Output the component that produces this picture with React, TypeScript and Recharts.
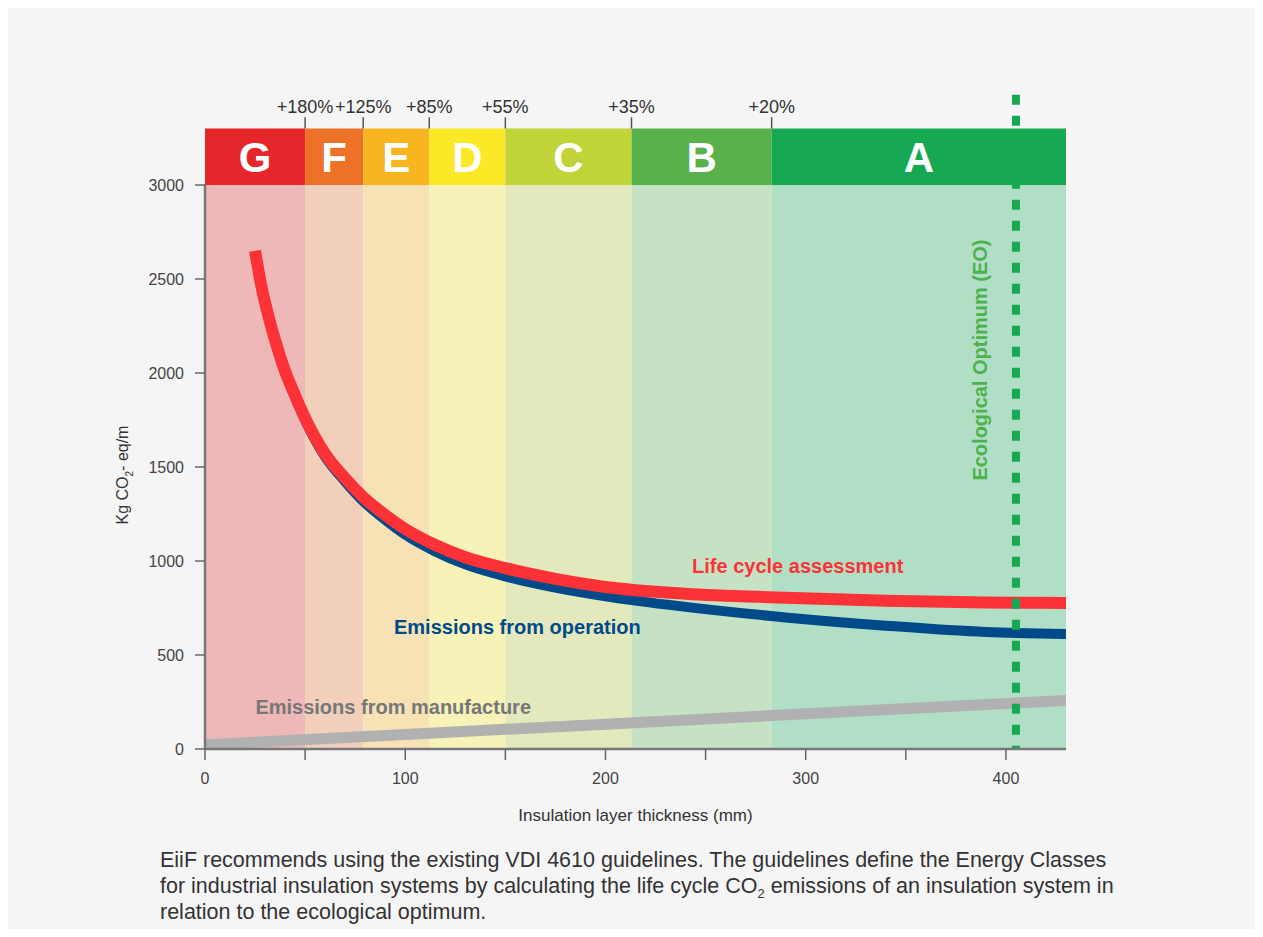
import { LineChart, Line, XAxis, YAxis, ReferenceArea, ReferenceLine, ReferenceDot } from 'recharts';

// energy classes (VDI 4610) and where they start/end on the thickness axis
const classNames = ['G', 'F', 'E', 'D', 'C', 'B', 'A'];
const classEdges = [0, 50, 79, 112, 150, 213, 283, 430];
const headerColors = ['#e5272b', '#ee7128', '#f8b51f', '#fbe928', '#c0d337', '#59b14c', '#17a854'];
const fillColors = ['#efb8b8', '#f2cfba', '#f7e2b6', '#f6f2b8', '#e3e9bd', '#c6e2c4', '#b1dfc5'];
const edgeLabels = ['+180%', '+125%', '+85%', '+55%', '+35%', '+20%'];

// curves, kg CO2-eq/m against insulation thickness (mm)
const thickness = [25, 28, 32, 36, 40, 45, 50, 60, 70, 80, 90, 100, 115, 130, 150, 175, 200, 240, 290, 340, 390, 430];
const lifeCycle = [2650, 2470, 2290, 2140, 2010, 1880, 1760, 1570, 1440, 1330, 1245, 1170, 1085, 1020, 962, 905, 862, 826, 805, 788, 779, 777];
const operation = [2645, 2465, 2284, 2133, 2002, 1870, 1748, 1555, 1422, 1308, 1219, 1140, 1051, 982, 918, 858, 812, 756, 700, 656, 622, 612];

const manufactureThickness = [0, 100, 200, 300, 400, 430];
const manufacture = [22, 77, 132, 187, 242, 258];

const xTicks = [0, 50, 100, 150, 200, 250, 300, 350, 400];
const yTicks = [0, 500, 1000, 1500, 2000, 2500, 3000];
const ecoOptimum = 405;

const curveRows = thickness.map((x, i) => ({ x, lca: lifeCycle[i], op: operation[i] }));
const manufactureRows = manufactureThickness.map((x, i) => ({ x, mf: manufacture[i] }));

const YTitle = (props: any) => {
  const vb = props.viewBox || { x: 0, y: 0, width: 0, height: 0 };
  const cx = 120;
  const cy = vb.y + vb.height / 2 + 8;
  return (
    <text x={cx} y={cy} transform={`rotate(-90 ${cx} ${cy})`} textAnchor="middle" fontSize={16} fill="#333">
      Kg CO<tspan fontSize={10} dy={5}>2</tspan><tspan dy={-5}>- eq/m</tspan>
    </text>
  );
};

export default function App() {
  return (
    <div style={{ position: 'relative', width: 1247, height: 921, background: '#f5f5f5', fontFamily: '"Liberation Sans", Arial, sans-serif' }}>
      <div style={{ position: 'absolute', left: 0, top: 0 }}>
        <LineChart width={1240} height={830} data={curveRows} margin={{ top: 177, right: 182, left: 0, bottom: 14 }}>
          {classNames.map((c, i) => (
            <ReferenceArea key={'f' + c} x1={classEdges[i]} x2={classEdges[i + 1]} y1={0} y2={3000}
              fill={fillColors[i]} fillOpacity={1} stroke="none" ifOverflow="visible" />
          ))}
          {classNames.map((c, i) => (
            <ReferenceArea key={'h' + c} x1={classEdges[i]} x2={classEdges[i + 1]} y1={3000} y2={3300}
              fill={headerColors[i]} fillOpacity={1} stroke="none" ifOverflow="visible"
              label={{ value: c, position: 'center', fill: '#fff', fontSize: 42, fontWeight: 'bold' }} />
          ))}
          <XAxis dataKey="x" type="number" domain={[0, 430]} ticks={xTicks} interval={0} allowDataOverflow
            tickFormatter={(v: number) => (v % 100 === 0 ? String(v) : '')}
            height={75} tickSize={11} tickMargin={13}
            axisLine={{ stroke: '#777', strokeWidth: 2.5 }} tickLine={{ stroke: '#666', strokeWidth: 1.5 }}
            tick={{ fill: '#444', fontSize: 16 }}
            label={{ value: 'Insulation layer thickness (mm)', position: 'insideBottom', offset: 3, fill: '#333', fontSize: 17 }} />
          <YAxis type="number" domain={[0, 3000]} ticks={yTicks} interval={0} allowDataOverflow width={197}
            tickSize={10} tickMargin={11}
            axisLine={{ stroke: '#777', strokeWidth: 2.5 }} tickLine={{ stroke: '#666', strokeWidth: 1.5 }}
            tick={{ fill: '#444', fontSize: 16 }}
            label={<YTitle />} />
          <Line data={manufactureRows} dataKey="mf" type="linear" stroke="#b1b1b1" strokeWidth={11}
            dot={false} activeDot={false} isAnimationActive={false} />
          <Line dataKey="op" type="monotone" stroke="#004a8a" strokeWidth={10}
            dot={false} activeDot={false} isAnimationActive={false} />
          <Line dataKey="lca" type="monotone" stroke="#fd3237" strokeWidth={12}
            dot={false} activeDot={false} isAnimationActive={false} />
          <ReferenceLine segment={[{ x: ecoOptimum, y: 3480 }, { x: ecoOptimum, y: 0 }]} ifOverflow="visible"
            stroke="#17a854" strokeWidth={8} strokeDasharray="10 11" />
          {edgeLabels.map((t, i) => (
            <ReferenceLine key={t} segment={[{ x: classEdges[i + 1], y: 3300 }, { x: classEdges[i + 1], y: 3360 }]}
              ifOverflow="visible" stroke="#555" strokeWidth={1.5}
              label={{ value: t, position: 'top', offset: 4, fill: '#333', fontSize: 18 }} />
          ))}
          <ReferenceDot x={296} y={973} r={0} ifOverflow="visible" stroke="none"
            label={{ value: 'Life cycle assessment', position: 'center', fill: '#fd3237', fontSize: 20, fontWeight: 'bold' }} />
          <ReferenceDot x={156} y={649} r={0} ifOverflow="visible" stroke="none"
            label={{ value: 'Emissions from operation', position: 'center', fill: '#004a8a', fontSize: 20, fontWeight: 'bold' }} />
          <ReferenceDot x={94} y={223} r={0} ifOverflow="visible" stroke="none"
            label={{ value: 'Emissions from manufacture', position: 'center', fill: '#777', fontSize: 20, fontWeight: 'bold' }} />
          <ReferenceDot x={387} y={2069} r={0} ifOverflow="visible" stroke="none"
            label={{ value: 'Ecological Optimum (EO)', position: 'center', angle: -90, fill: '#4cb24d', fontSize: 20, fontWeight: 'bold' }} />
        </LineChart>
      </div>
      <div style={{ position: 'absolute', left: 152, top: 839, fontSize: 21.5, lineHeight: '26px', color: '#333' }}>
        EiiF recommends using the existing VDI 4610 guidelines. The guidelines define the Energy Classes<br />
        for industrial insulation systems by calculating the life cycle CO<sub style={{ fontSize: '0.6em', lineHeight: 0 }}>2</sub> emissions of an insulation system in<br />
        relation to the ecological optimum.
      </div>
    </div>
  );
}
